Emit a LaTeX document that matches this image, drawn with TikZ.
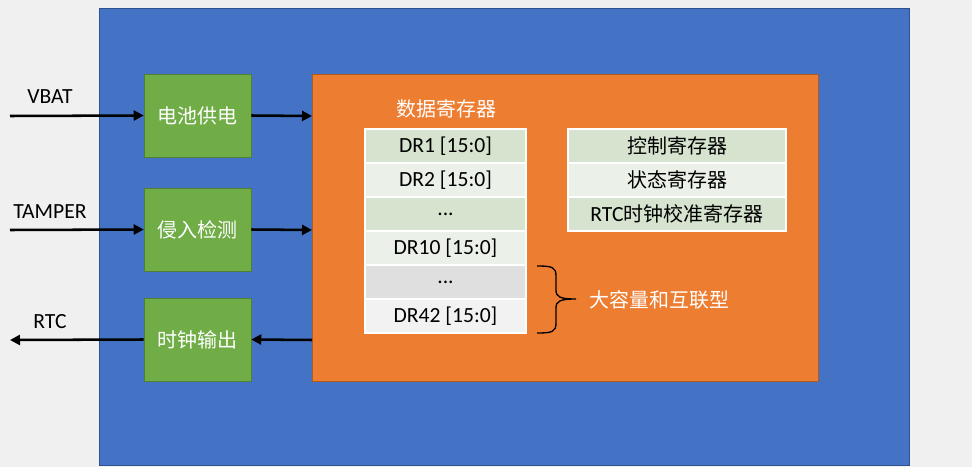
\documentclass[tikz,border=0pt]{standalone}
\usepackage{fontspec}
\setmainfont{Carlito}[Scale=1.08]
\newfontfamily\cjk{Noto Sans CJK SC}
\usetikzlibrary{arrows.meta}
\definecolor{bgray}{HTML}{F0F0F0}
\definecolor{mblue}{HTML}{4472C4}
\definecolor{mblueb}{HTML}{2F528F}
\definecolor{mgreen}{HTML}{70AD47}
\definecolor{mgreenb}{HTML}{507E32}
\definecolor{morange}{HTML}{ED7D31}
\definecolor{morangeb}{HTML}{AE5A21}
\definecolor{rowa}{HTML}{D6E3CF}
\definecolor{rowb}{HTML}{EBF1E9}
\definecolor{rowc}{HTML}{DFDFDF}
\definecolor{rowd}{HTML}{F2F2F2}
\begin{document}
\begin{tikzpicture}[x=0.75pt,y=-0.75pt,
  font=\fontsize{15}{18}\selectfont,
  blk/.style={draw=mgreenb,fill=mgreen,text=white,minimum width=80.25pt,minimum height=62.25pt,inner sep=0pt},
  reg/.style={draw=white,line width=0.8pt,minimum height=25.5pt,inner sep=0pt},
  dreg/.style={reg,minimum width=120.75pt},
  creg/.style={reg,minimum width=163.5pt},
  sig/.style={line width=1.9pt,-{Triangle[length=7.5pt,width=7.5pt]}}]
\useasboundingbox[fill=bgray] (0,0) rectangle (972,467);
\node[draw=mblueb,fill=mblue,minimum width=607.5pt,minimum height=342.75pt] (chip) at (504,236.5) {};
\node[draw=morangeb,fill=morange,minimum width=379.5pt,minimum height=230.25pt] (bkp) at (565,227.5) {};
\node[blk] (bat) at (197.5,115.5) {\cjk 电池供电};
\node[blk] (tmp) at (197.5,229.5) {\cjk 侵入检测};
\node[blk] (clk) at (197.5,339.5) {\cjk 时钟输出};
\node (lvbat) at (50,97) {VBAT};
\node (ltmp) at (50,212) {TAMPER};
\node (lrtc) at (50,322) {RTC};
\coordinate (vbat) at (10,116);
\coordinate (tamper) at (10,230);
\coordinate (rtc) at (10,340);
\coordinate (bin) at (312,116);
\coordinate (tin) at (312,230);
\coordinate (cout) at (312,340);
\node[text=white] (dtitle) at (446,109) {\cjk 数据寄存器};
\node[dreg,fill=rowa] (dr1) at (445.5,146) {DR1 [15:0]};
\node[dreg,fill=rowb] (dr2) at (445.5,180) {DR2 [15:0]};
\node[dreg,fill=rowa] (dr3) at (445.5,214) {...};
\node[dreg,fill=rowb] (dr10) at (445.5,248) {DR10 [15:0]};
\node[dreg,fill=rowc] (dr11) at (445.5,282) {...};
\node[dreg,fill=rowd] (dr42) at (445.5,316) {DR42 [15:0]};
\node[creg,fill=rowa] (cr) at (677,146) {\cjk 控制寄存器};
\node[creg,fill=rowb] (sr) at (677,180) {\cjk 状态寄存器};
\node[creg,fill=rowa] (cal) at (677,214) {RTC{\cjk 时钟校准寄存器}};
\node[text=white] (big) at (659,300) {\cjk 大容量和互联型};
\path[sig]
(vbat) edge (bat.west)
(tamper) edge (tmp.west)
(clk.west) edge (rtc)
(bat.east) edge (bin)
(tmp.east) edge (tin)
(cout) edge (clk.east)
;
\draw[line width=1pt] (537,266) .. controls (552,266) and (556,267) .. (556,276)
  -- (556,290) .. controls (556,297) and (560,299) .. (576,299)
  (556,308) .. controls (556,301) and (560,299) .. (576,299)
  (556,308) -- (556,323) .. controls (556,332) and (552,333) .. (537,333);
\end{tikzpicture}
\end{document}
